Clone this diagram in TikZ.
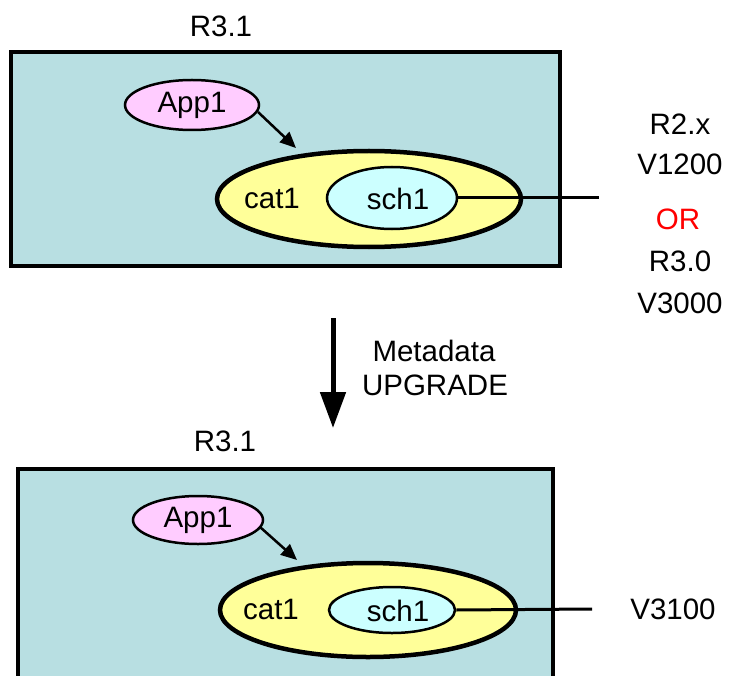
\documentclass[tikz,border=0pt]{standalone}
\usepackage{fontspec}
\setmainfont{Liberation Sans}
\usetikzlibrary{arrows.meta,shapes.geometric}
\definecolor{dbfill}{RGB}{184,223,226}
\definecolor{appfill}{RGB}{255,204,255}
\definecolor{catfill}{RGB}{255,255,153}
\definecolor{schfill}{RGB}{204,255,255}
\tikzset{
  lab/.style={font=\fontsize{29.5}{33}\selectfont, inner sep=0pt, anchor=center},
  dbbox/.style={draw=black, fill=dbfill, line width=3.5pt},
  appnode/.style={ellipse, draw=black, fill=appfill, line width=2.5pt, inner sep=0pt},
  catnode/.style={ellipse, draw=black, fill=catfill, line width=4.5pt, inner sep=0pt},
  schnode/.style={ellipse, draw=black, fill=schfill, line width=2.5pt, inner sep=0pt},
  uses/.style={line width=2.5pt, -{Triangle[length=16pt,width=14pt]}},
  link/.style={line width=3pt},
  upgrade/.style={line width=5pt, -{Triangle[length=36pt,width=25pt]}}
}
\begin{document}
\begin{tikzpicture}[x=1pt,y=-1pt]
\useasboundingbox (0,0) rectangle (735,676);
\clip (0,0) rectangle (735,676);

% ---------- before the upgrade ----------
\node[lab] (relA) at (221,26) {R3.1};
\filldraw[dbbox] (11,52) rectangle (560,266);
\node[appnode, minimum width=134pt, minimum height=50pt] (appA) at (192,105) {};
\node[lab] at (appA.center) {App1};
\node[catnode, minimum width=304pt, minimum height=96pt] (catA) at (369,199) {};
\node[lab] (catAtxt) at (272,198) {cat1};
\node[schnode, minimum width=130pt, minimum height=62pt] (schA) at (392,198) {};
\node[lab] (schAtxt) at (398,199) {sch1};
\coordinate (fromA) at (258,112);
\coordinate (tipA) at (296,148);
\draw[uses] (fromA) -- (tipA);
\coordinate (endA) at (599,198);
\draw[link] (schA.east) -- (endA);

\node[lab] (r2x)   at (680,124) {R2.x};
\node[lab] (v1200) at (680,164) {V1200};
\node[lab, text=red] (orl) at (678,219) {OR};
\node[lab] (r30)   at (680,261) {R3.0};
\node[lab] (v3000) at (680,303) {V3000};

% ---------- the upgrade step ----------
\coordinate (upTop) at (333,318);
\coordinate (upTip) at (333,428);
\draw[upgrade] (upTop) -- (upTip);
\node[lab] (meta) at (434,351) {Metadata};
\node[lab] (upg)  at (435,385) {UPGRADE};

% ---------- after the upgrade ----------
\node[lab] (relB) at (225,441) {R3.1};
\fill[dbfill] (18,469) rectangle (553,690);
\draw[line width=3.5pt] (18,690) -- (18,469) -- (553,469) -- (553,690);
\node[appnode, minimum width=130pt, minimum height=48pt] (appB) at (198,520) {};
\node[lab] at (appB.center) {App1};
\node[catnode, minimum width=296pt, minimum height=94pt] (catB) at (368,610) {};
\node[lab] (catBtxt) at (271,609) {cat1};
\node[schnode, minimum width=126pt, minimum height=46pt] (schB) at (392,610) {};
\node[lab] (schBtxt) at (398,611) {sch1};
\coordinate (fromB) at (260,527);
\coordinate (tipB) at (297,560);
\draw[uses] (fromB) -- (tipB);
\coordinate (endB) at (592,609);
\draw[link] (schB.east) -- (endB);
\node[lab] (v3100) at (673,609) {V3100};
\end{tikzpicture}
\end{document}
